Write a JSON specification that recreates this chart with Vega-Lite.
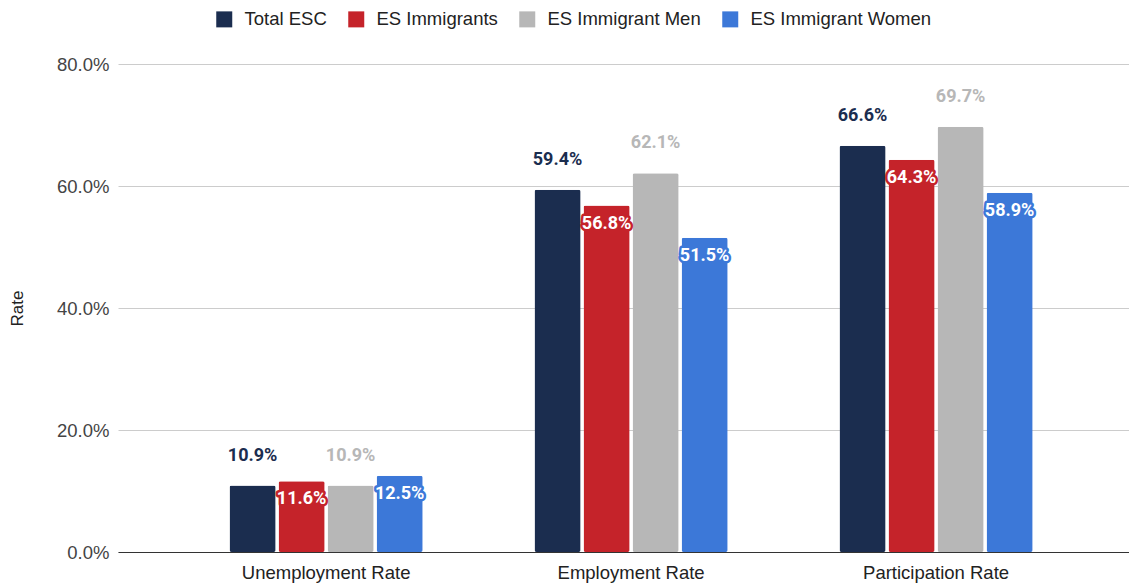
{
  "$schema": "https://vega.github.io/schema/vega-lite/v6.json",
  "width": 1011,
  "height": 488,
  "autosize": "none",
  "padding": {"left": 118, "top": 64, "right": 0, "bottom": 34},
  "config": {"font": "Liberation Sans", "view": {"stroke": null}},
  "data": {"values": [
    {"metric": "Unemployment Rate", "series": "Total ESC", "rate": 0.109},
    {"metric": "Unemployment Rate", "series": "ES Immigrants", "rate": 0.116},
    {"metric": "Unemployment Rate", "series": "ES Immigrant Men", "rate": 0.109},
    {"metric": "Unemployment Rate", "series": "ES Immigrant Women", "rate": 0.125},
    {"metric": "Employment Rate", "series": "Total ESC", "rate": 0.594},
    {"metric": "Employment Rate", "series": "ES Immigrants", "rate": 0.568},
    {"metric": "Employment Rate", "series": "ES Immigrant Men", "rate": 0.621},
    {"metric": "Employment Rate", "series": "ES Immigrant Women", "rate": 0.515},
    {"metric": "Participation Rate", "series": "Total ESC", "rate": 0.666},
    {"metric": "Participation Rate", "series": "ES Immigrants", "rate": 0.643},
    {"metric": "Participation Rate", "series": "ES Immigrant Men", "rate": 0.697},
    {"metric": "Participation Rate", "series": "ES Immigrant Women", "rate": 0.589}
  ]},
  "encoding": {
    "x": {
      "field": "metric", "type": "nominal",
      "sort": ["Unemployment Rate", "Employment Rate", "Participation Rate"],
      "scale": {"paddingInner": 0.357, "paddingOuter": 0.336, "align": 0.537},
      "axis": {"title": null, "labelAngle": 0, "ticks": false, "labelPadding": 11, "labelFontSize": 18.5, "labelColor": "#222222", "domain": true, "domainColor": "#333333", "domainWidth": 1, "grid": false}
    },
    "xOffset": {
      "field": "series", "type": "nominal",
      "sort": ["Total ESC", "ES Immigrants", "ES Immigrant Men", "ES Immigrant Women"],
      "scale": {"paddingInner": 0.06, "paddingOuter": 0.03}
    },
    "y": {
      "field": "rate", "type": "quantitative",
      "scale": {"domain": [0, 0.8]},
      "axis": {"values": [0, 0.2, 0.4, 0.6, 0.8], "format": ".1%", "title": "Rate", "titleFontSize": 17, "titleFontWeight": "normal", "titleColor": "#222222", "titlePadding": 30, "labelFontSize": 18.5, "labelColor": "#444444", "labelPadding": 9, "ticks": false, "domain": false, "grid": true, "gridColor": "#cccccc", "gridWidth": 1}
    }
  },
  "layer": [
    {
      "mark": {"type": "bar", "cornerRadius": 2},
      "encoding": {
        "color": {
          "field": "series", "type": "nominal",
          "sort": ["Total ESC", "ES Immigrants", "ES Immigrant Men", "ES Immigrant Women"],
          "scale": {"domain": ["Total ESC", "ES Immigrants", "ES Immigrant Men", "ES Immigrant Women"], "range": ["#1b2d4f", "#c5232a", "#b7b7b7", "#3c78d8"]},
          "legend": {"orient": "none", "legendX": 97, "legendY": -54, "direction": "horizontal", "title": null, "symbolType": "square", "symbolSize": 256, "symbolStrokeWidth": 0, "symbolOpacity": 1, "labelFontSize": 18.5, "labelColor": "#222222", "labelLimit": 400, "columnPadding": 20, "labelOffset": 11}
        }
      }
    },
    {
      "transform": [{"filter": "datum.series === 'Total ESC' || datum.series === 'ES Immigrant Men'"}],
      "mark": {"type": "text", "font": "Roboto", "fontWeight": "bold", "fontSize": 18, "baseline": "middle", "align": "center", "dy": -30},
      "encoding": {
        "text": {"field": "rate", "type": "quantitative", "format": ".1%"},
        "fill": {"condition": {"test": "datum.series === 'Total ESC'", "value": "#1b2d4f"}, "value": "#b7b7b7"}
      }
    },
    {
      "transform": [{"filter": "datum.series === 'ES Immigrants' || datum.series === 'ES Immigrant Women'"}],
      "mark": {"type": "text", "font": "Roboto", "fontWeight": "bold", "fontSize": 18, "baseline": "middle", "align": "center", "dy": 18, "strokeWidth": 5, "strokeJoin": "round"},
      "encoding": {
        "text": {"field": "rate", "type": "quantitative", "format": ".1%"},
        "fill": {"condition": {"test": "datum.series === 'ES Immigrants'", "value": "#c5232a"}, "value": "#3c78d8"},
        "stroke": {"condition": {"test": "datum.series === 'ES Immigrants'", "value": "#c5232a"}, "value": "#3c78d8"}
      }
    },
    {
      "transform": [{"filter": "datum.series === 'ES Immigrants' || datum.series === 'ES Immigrant Women'"}],
      "mark": {"type": "text", "font": "Roboto", "fontWeight": "bold", "fontSize": 18, "baseline": "middle", "align": "center", "dy": 18, "fill": "#ffffff"},
      "encoding": {
        "text": {"field": "rate", "type": "quantitative", "format": ".1%"}
      }
    }
  ]
}
